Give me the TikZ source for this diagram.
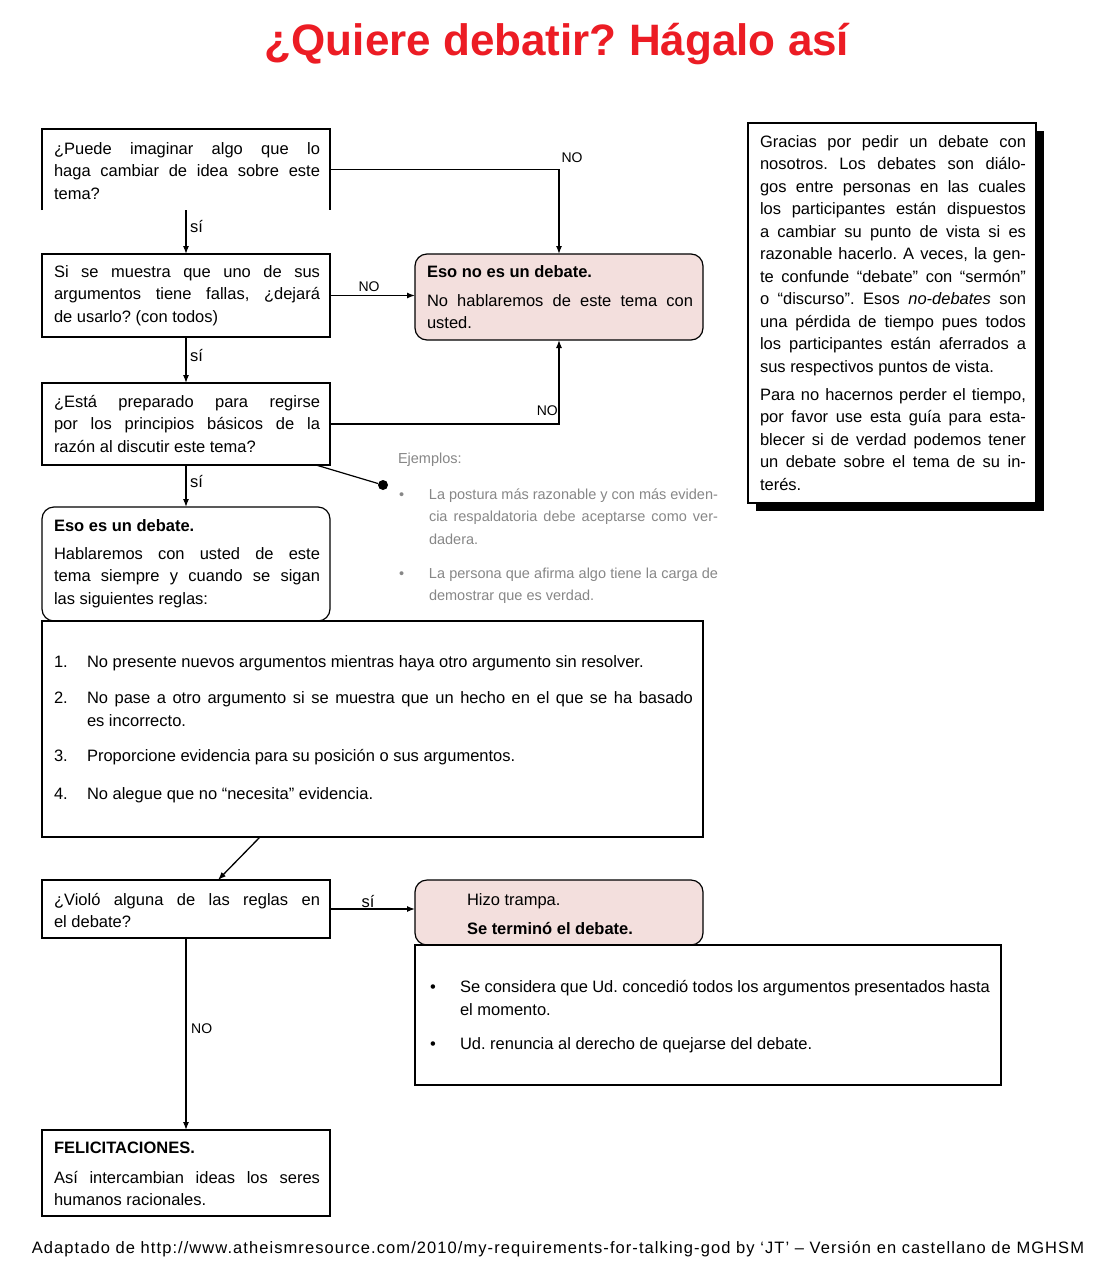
\documentclass[tikz,border=0pt]{standalone}
\usepackage{fontspec}
\setmainfont{Liberation Sans}
\usetikzlibrary{arrows.meta,calc,shadows}
\definecolor{pinkfill}{RGB}{243,223,221}
\definecolor{titlered}{RGB}{236,28,36}
\definecolor{exgray}{RGB}{135,135,135}
\newcommand\jline[1]{\hbox to\hsize{#1}}
\newcommand\eline[1]{\hbox{#1}}
\newcommand\bodyfont{\fontsize{16.5}{22.5}\selectfont}
\newcommand\exfont{\fontsize{14.5}{22.5}\selectfont}
\frenchspacing
\begin{document}
\begin{tikzpicture}[x=1pt,y=-1pt,
  box/.style={draw=black,line width=1.2pt,anchor=north west,inner sep=0,outer sep=0},
  rbox/.style={box,rounded corners=12pt},
  pbox/.style={rbox,fill=pinkfill},
  body/.style={anchor=base west,inner sep=0,outer sep=0},
  conn/.style={line width=1.3pt,-{Latex[length=8pt,width=6pt]}},
  lbl/.style={inner sep=0,font=\fontsize{16.5}{20}\selectfont},
  nolbl/.style={inner sep=0,font=\fontsize{14}{16}\selectfont},
]
\useasboundingbox[fill=white] (0,0) rectangle (1115,1280);

% title
\node[anchor=base,inner sep=0,text=titlered,font=\fontsize{44}{50}\selectfont\bfseries] (title) at (557,55) {¿Quiere debatir? Hágalo así};

% boxes
\node[box,draw=none,minimum width=288,minimum height=81] (b1) at (42,129) {};
\draw[line width=1.2pt] (b1.south west) -- (b1.north west) -- (b1.north east) -- (b1.south east);
\node[box,minimum width=288,minimum height=83] (b2) at (42,254) {};
\node[pbox,minimum width=288,minimum height=86] (nd) at (415,254) {};
\node[box,minimum width=288,minimum height=82] (b3) at (42,383) {};
\node[rbox,fill=white,minimum width=288,minimum height=114] (deb) at (42,507) {};
\node[box,fill=white,minimum width=661,minimum height=216] (rules) at (42,621) {};
\node[box,minimum width=288,minimum height=58] (v) at (42,880) {};
\node[pbox,minimum width=288,minimum height=65] (ht) at (415,880) {};
\node[box,fill=white,minimum width=586,minimum height=140] (cons) at (415,945) {};
\node[box,minimum width=288,minimum height=86] (fel) at (42,1130) {};
\node[box,fill=white,minimum width=288,minimum height=380,
  drop shadow={shadow xshift=8pt,shadow yshift=-8pt,fill=black,opacity=1}] (rt) at (748,123) {};

% texts
\node[body] (t1) at (54,154) {\parbox[t]{266pt}{\bodyfont
  \jline{¿Puede imaginar algo que lo}
  \jline{haga cambiar de idea sobre este}
  \eline{tema?}}};
\node[body] (t2) at (54,277) {\parbox[t]{266pt}{\bodyfont
  \jline{Si se muestra que uno de sus}
  \jline{argumentos tiene fallas, ¿dejará}
  \eline{de usarlo? (con todos)}}};
\node[body] (t3) at (54,407) {\parbox[t]{266pt}{\bodyfont
  \jline{¿Está preparado para regirse}
  \jline{por los principios básicos de la}
  \eline{razón al discutir este tema?}}};
\node[body] (tnd) at (427,277) {\parbox[t]{266pt}{\bodyfont
  \eline{\bfseries Eso no es un debate.}\vskip6.5pt
  \jline{No hablaremos de este tema con}
  \eline{usted.}}};
\node[body] (tdeb) at (54,531) {\parbox[t]{266pt}{\bodyfont
  \eline{\bfseries Eso es un debate.}\vskip5.5pt
  \jline{Hablaremos con usted de este}
  \jline{tema siempre y cuando se sigan}
  \eline{las siguientes reglas:}}};
\node[body] (trules) at (54,667) {\parbox[t]{639pt}{\bodyfont
  \eline{\makebox[33pt][l]{1.}No presente nuevos argumentos mientras haya otro argumento sin resolver.}\vskip14pt
  \jline{\makebox[33pt][l]{2.}No pase a otro argumento si se muestra que un hecho en el que se ha basado}\vskip0.5pt
  \eline{\hskip33pt es incorrecto.}\vskip12.5pt
  \eline{\makebox[33pt][l]{3.}Proporcione evidencia para su posición o sus argumentos.}\vskip15.5pt
  \eline{\makebox[33pt][l]{4.}No alegue que no “necesita” evidencia.}}};
\node[body] (tv) at (54,905) {\parbox[t]{266pt}{\bodyfont
  \jline{¿Violó alguna de las reglas en}
  \eline{el debate?}}};
\node[body] (tht) at (467,905) {\parbox[t]{230pt}{\bodyfont
  \eline{Hizo trampa.}\vskip6.5pt
  \eline{\bfseries Se terminó el debate.}}};
\node[body] (tcons) at (430,992) {\parbox[t]{560pt}{\bodyfont
  \jline{\makebox[30pt][l]{•}Se considera que Ud. concedió todos los argumentos presentados hasta}\vskip0.5pt
  \eline{\hskip30pt el momento.}\vskip11.5pt
  \eline{\makebox[30pt][l]{•}Ud. renuncia al derecho de quejarse del debate.}}};
\node[body] (tfel) at (54,1153) {\parbox[t]{266pt}{\bodyfont
  \eline{\bfseries FELICITACIONES.}\vskip7.5pt
  \jline{Así intercambian ideas los seres}
  \eline{humanos racionales.}}};
\node[body] (trt) at (760,147) {\parbox[t]{266pt}{\bodyfont
  \jline{Gracias por pedir un debate con}
  \jline{nosotros. Los debates son diálo-}
  \jline{gos entre personas en las cuales}
  \jline{los participantes están dispuestos}
  \jline{a cambiar su punto de vista si es}
  \jline{razonable hacerlo. A veces, la gen-}
  \jline{te confunde “debate” con “sermón”}
  \jline{o “discurso”. Esos \textit{no-debates} son}
  \jline{una pérdida de tiempo pues todos}
  \jline{los participantes están aferrados a}
  \eline{sus respectivos puntos de vista.}\vskip5.5pt
  \jline{Para no hacernos perder el tiempo,}
  \jline{por favor use esta guía para esta-}
  \jline{blecer si de verdad podemos tener}
  \jline{un debate sobre el tema de su in-}
  \eline{terés.}}};
\node[body,text=exgray] (tex) at (398,463) {\parbox[t]{320pt}{\exfont
  \eline{Ejemplos:}\vskip13.5pt
  \jline{\hskip1pt\makebox[30pt][l]{•}La postura más razonable y con más eviden-}
  \jline{\hskip31pt cia respaldatoria debe aceptarse como ver-}
  \eline{\hskip31pt dadera.}\vskip11.5pt
  \jline{\hskip1pt\makebox[30pt][l]{•}La persona que afirma algo tiene la carga de}
  \eline{\hskip31pt demostrar que es verdad.}}};
\node[anchor=base,inner sep=0,font=\bodyfont\addfontfeatures{LetterSpace=6.5}] (foot) at (558,1253) {Adaptado de http://www.atheismresource.com/2010/my-requirements-for-talking-god by ‘JT’ – Versión en castellano de MGHSM};

% dot
\node[circle,fill=black,inner sep=0,minimum size=10] (dot) at (383,485) {};

% connectors
\draw[conn] (b1.south) -- (b2.north);
\draw[conn] (b2.south) -- (b3.north);
\draw[conn] (b3.south) -- (deb.north);
\draw[conn] (b1.east) -| (nd.north);
\draw[conn] (b2.east) -- (b2.east -| nd.west);
\draw[conn] (b3.east) -| (nd.south);
\draw[line width=1.2pt] ($(b3.south east)+(-14,0)$) -- (dot);
\draw[conn] ($(rules.south west)+(218,0)$) -- ($(v.north west)+(176,0)$);
\draw[conn] (v.east) -- (v.east -| ht.west);
\draw[conn] (v.south) -- (fel.north);

% labels
\node[lbl,anchor=west] (s1) at (190,227) {sí};
\node[lbl,anchor=west] (s2) at (190,356) {sí};
\node[lbl,anchor=west] (s3) at (190,481) {sí};
\node[lbl] (s4) at (368,901) {sí};
\node[nolbl] (n1) at (572,158) {NO};
\node[nolbl] (n2) at (369,287) {NO};
\node[nolbl,anchor=east] (n3) at (558,411) {NO};
\node[nolbl,anchor=west] (n4) at (191,1029) {NO};
\end{tikzpicture}
\end{document}
